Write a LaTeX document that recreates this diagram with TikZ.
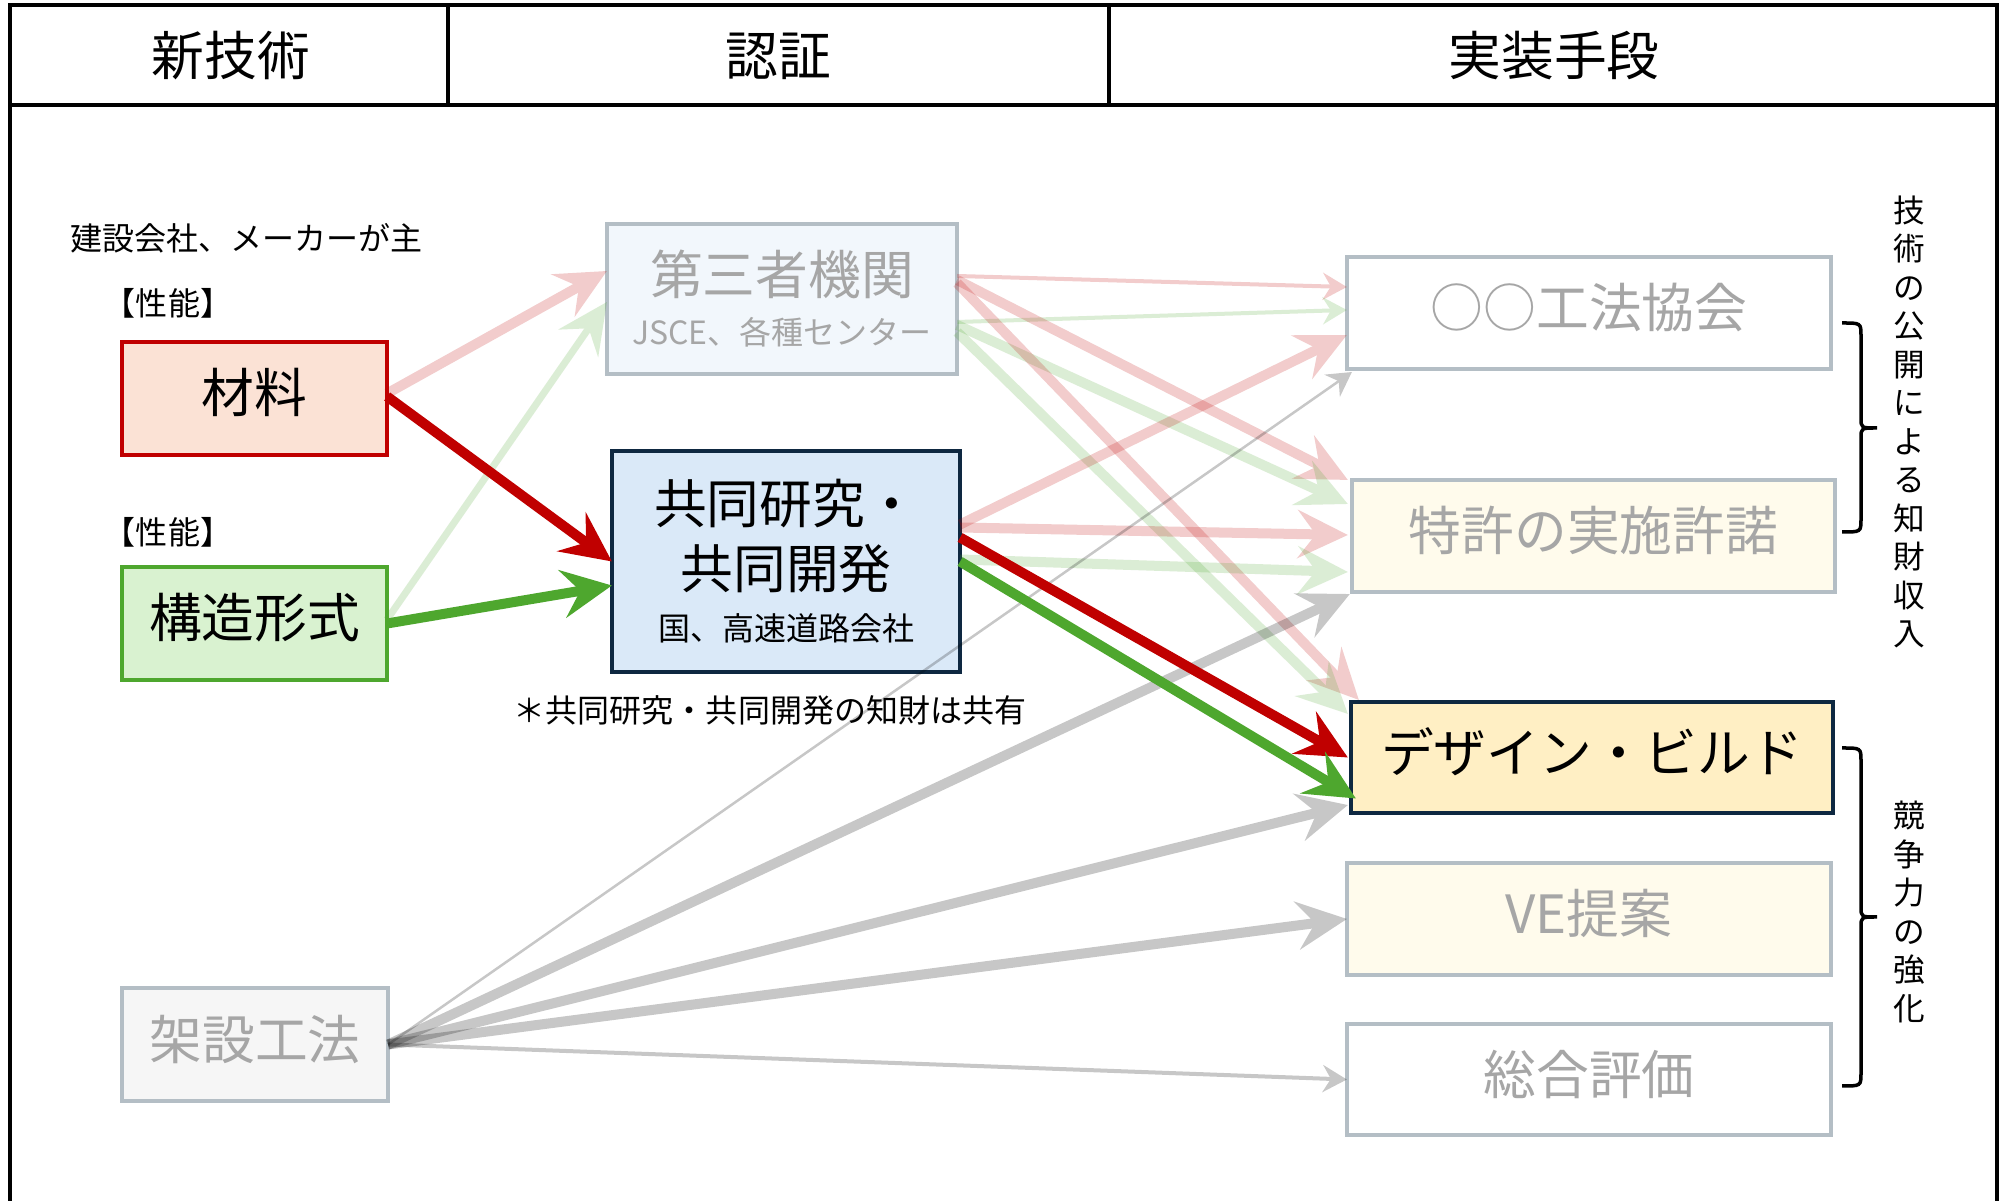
\documentclass[tikz,border=0pt]{standalone}
\usepackage{fontspec}
\setmainfont{Noto Sans CJK JP}
\usetikzlibrary{arrows.meta,calc}
\definecolor{cdred}{HTML}{C00000}
\definecolor{cdgreen}{HTML}{4EA72E}
\definecolor{cnavy}{HTML}{0E2841}
\definecolor{cbgray}{HTML}{B4BEC5}
\definecolor{ctgray}{HTML}{A6A6A6}
\definecolor{fsalmon}{HTML}{FBE2D5}
\definecolor{fgreen}{HTML}{D9F2D0}
\definecolor{fblue}{HTML}{DAE9F8}
\definecolor{fpale}{HTML}{F2F7FC}
\definecolor{fcream}{HTML}{FFFBEC}
\definecolor{famber}{HTML}{FFEFC4}
\definecolor{fgrey}{HTML}{F6F6F6}
\tikzset{
  frame/.style={draw=black, line width=0.04cm},
  hdr/.style={font=\fontsize{15pt}{18pt}\selectfont, inner sep=0pt},
  note/.style={font=\fontsize{9.1pt}{11pt}\selectfont, inner sep=0pt},
  vtext/.style={font=\fontsize{9pt}{10.95pt}\selectfont, align=center, inner sep=0pt},
  box/.style={draw=cbgray, line width=0.04cm, inner sep=0pt, outer sep=0pt,
    font=\fontsize{15pt}{18pt}\selectfont, text=ctgray},
  one/.style={text height=0.47cm, text depth=0.18cm},
  bighead/.style={-{Stealth[length=0.5cm, width=0.48cm, inset=0.18cm]}},
  smallhead/.style={-{Stealth[length=0.24cm, width=0.27cm, inset=0.08cm]}},
  thickln/.style={line width=0.1cm},
  brc/.style={draw=black, line width=0.035cm},
}
\newcommand\fadearrow[3]{\begin{scope}[transparency group, opacity=#1]\draw[#2] #3;\end{scope}}
\begin{document}
\begin{tikzpicture}[x=0.01cm,y=-0.01cm]
\useasboundingbox[fill=white] (0,0) rectangle (2008,1201);

% frame
\draw[frame] (10,1201) -- (10,5) -- (1997,5) -- (1997,1201);
\draw[frame] (10,105) -- (1997,105);
\draw[frame] (448,5) -- (448,105);
\draw[frame] (1109,5) -- (1109,105);

% headers
\node[hdr] (h1) at (231,56) {新技術};
\node[hdr] (h2) at (778,56) {認証};
\node[hdr] (h3) at (1554,56) {実装手段};

% notes
\node[note, anchor=west] (n1) at (70,238) {建設会社、メーカーが主};
\node[note] (p1) at (168,303) {【性能】};
\node[note] (p2) at (168,532) {【性能】};
\node[note] (n2) at (770,710) {＊共同研究・共同開発の知財は共有};

% boxes
\node[box, one, draw=cdred, fill=fsalmon, text=black, minimum width=2.65cm, minimum height=1.13cm] (mat) at (254.5,398.5) {材料};
\node[box, one, draw=cdgreen, fill=fgreen, text=black, minimum width=2.65cm, minimum height=1.13cm] (kozo) at (254.5,623.5) {構造形式};
\node[box, fill=fgrey, one, minimum width=2.66cm, minimum height=1.13cm] (kas) at (255,1044.5) {架設工法};

\node[box, fill=fpale, align=center, minimum width=3.5cm, minimum height=1.5cm] (dai) at (782,299)
  {第三者機関\\[-0.133cm]{\fontsize{9.1pt}{11pt}\selectfont JSCE、各種センター}};
\node[box, draw=cnavy, fill=fblue, text=black, align=center, font=\fontsize{15pt}{18.5pt}\selectfont,
  minimum width=3.48cm, minimum height=2.21cm] (kyo) at (786,561.5)
  {共同研究・\\共同開発\\[-0.13cm]{\fontsize{9.1pt}{11pt}\selectfont 国、高速道路会社}};

\node[box, one, fill=white, minimum width=4.84cm, minimum height=1.12cm] (oo) at (1589,313) {○○工法協会};
\node[box, one, fill=fcream, minimum width=4.83cm, minimum height=1.12cm] (tok) at (1593.5,536) {特許の実施許諾};
\node[box, one, draw=cnavy, fill=famber, text=black, minimum width=4.82cm, minimum height=1.11cm] (des) at (1592,757.5) {デザイン・ビルド};
\node[box, one, fill=fcream, minimum width=4.84cm, minimum height=1.12cm] (ve) at (1589,919) {VE提案};
\node[box, one, fill=white, minimum width=4.84cm, minimum height=1.11cm] (sogo) at (1589,1079.5) {総合評価};

% light arrows from left column
\fadearrow{0.2}{cdred, thickln, bighead}{($(mat.east)+(0,-5)$) -- ($(dai.west)+(0,-28)$)}
\fadearrow{0.2}{cdgreen, line width=0.07cm, bighead}{($(kozo.east)+(0,-4)$) -- ($(dai.west)+(0,3)$)}

% light arrows from dai
\fadearrow{0.2}{cdred, line width=0.04cm, smallhead}{($(dai.east)+(0,-23)$) -- ($(oo.west)+(0,-26)$)}
\fadearrow{0.2}{cdgreen, line width=0.04cm, smallhead}{($(dai.east)+(0,23)$) -- ($(oo.west)+(0,-3)$)}
\fadearrow{0.2}{cdred, thickln, bighead}{($(dai.east)+(0,-19)$) -- ($(tok.north west)+(-4,0)$)}
\fadearrow{0.2}{cdgreen, thickln, bighead}{($(dai.east)+(0,26)$) -- ($(tok.west)+(-4,-32)$)}
\fadearrow{0.2}{cdred, thickln, bighead}{($(dai.east)+(0,-16)$) -- ($(des.north west)+(8,-2)$)}
\fadearrow{0.2}{cdgreen, thickln, bighead}{($(dai.east)+(0,33)$) -- ($(des.north west)+(-3,12)$)}

% light arrows from kyo
\fadearrow{0.2}{cdred, thickln, bighead}{($(kyo.east)+(0,-37)$) -- ($(oo.west)+(0,22)$)}
\fadearrow{0.2}{cdred, thickln, bighead}{($(kyo.east)+(0,-34)$) -- ($(tok.west)+(-4,-1)$)}
\fadearrow{0.2}{cdgreen, thickln, bighead}{($(kyo.east)+(0,-2)$) -- ($(tok.west)+(-4,36)$)}

% gray arrows from kas
\fadearrow{0.22}{black, line width=0.025cm, smallhead}{(kas.east) -- ($(oo.south west)+(5,3)$)}
\fadearrow{0.22}{black, thickln, bighead}{(kas.east) -- ($(tok.south west)+(-2,2)$)}
\fadearrow{0.22}{black, thickln, bighead}{(kas.east) -- ($(des.south west)+(-3,-8)$)}
\fadearrow{0.22}{black, thickln, bighead}{(kas.east) -- (ve.west)}
\fadearrow{0.22}{black, line width=0.04cm, smallhead}{(kas.east) -- (sogo.west)}

% strong arrows
\draw[cdred, thickln, bighead] ($(mat.east)+(0,-2)$) -- (kyo.west);
\draw[cdgreen, thickln, bighead] (kozo.east) -- ($(kyo.west)+(0,24)$);
\draw[cdred, thickln, bighead] ($(kyo.east)+(0,-24)$) -- ($(des.west)+(-3,0)$);
\draw[cdgreen, thickln, bighead] (kyo.east) -- ($(des.west)+(5,41)$);

% braces
\draw[brc] (1842,323) .. controls (1861,323) .. (1861,336) -- (1861,418)
  .. controls (1861,428) .. (1877,428) .. controls (1861,428) .. (1861,438)
  -- (1861,519) .. controls (1861,532) .. (1842,532);
\draw[brc] (1842,748) .. controls (1861,748) .. (1861,761) -- (1861,907)
  .. controls (1861,917) .. (1877,917) .. controls (1861,917) .. (1861,927)
  -- (1861,1073) .. controls (1861,1086) .. (1842,1086);

% vertical texts
\node[vtext] (v1) at (1909,422) {技\\術\\の\\公\\開\\に\\よ\\る\\知\\財\\収\\入};
\node[vtext] (v2) at (1909,912) {競\\争\\力\\の\\強\\化};
\end{tikzpicture}
\end{document}
